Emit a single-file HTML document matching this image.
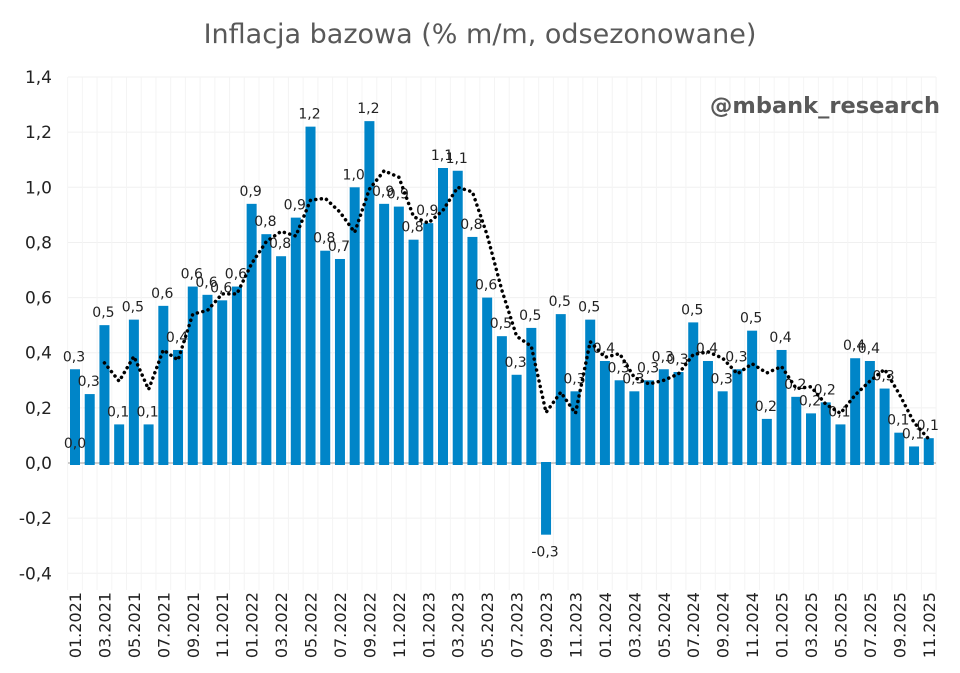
<!DOCTYPE html>
<html><head><meta charset="utf-8"><style>
html,body{margin:0;padding:0;background:#fff;}
svg{display:block;font-family:"DejaVu Sans","Liberation Sans",sans-serif;}
</style></head><body>
<svg id="s" width="960" height="673" xmlns="http://www.w3.org/2000/svg"></svg>
<script>
const v=[0.34,0.25,0.50,0.14,0.52,0.14,0.57,0.41,0.64,0.61,0.59,0.64,0.94,0.83,0.75,0.89,1.22,0.77,0.74,1.00,1.24,0.94,0.93,0.81,0.87,1.07,1.06,0.82,0.60,0.46,0.32,0.49,-0.26,0.54,0.26,0.52,0.37,0.30,0.26,0.30,0.34,0.33,0.51,0.37,0.26,0.34,0.48,0.16,0.41,0.24,0.18,0.22,0.14,0.38,0.37,0.27,0.11,0.06,0.09];
const Y=x=>463-x*275.7, X=i=>75+i*14.72;
let h='';
h+='<text x="480" y="43" text-anchor="middle" font-size="27" fill="#595959">Inflacja bazowa (% m/m, odsezonowane)</text>';
for(let i=0;i<=9;i++){const t=1.4-i*0.2,y=Y(t);
 h+=`<line x1="68" x2="936" y1="${y}" y2="${y}" stroke="#f0f0f0"/>`;
 h+=`<text x="52" y="${y+6}" text-anchor="end" font-size="17" fill="#222">${(Math.abs(t)<1e-9?0:t).toFixed(1).replace('.',',')}</text>`;}
for(let i=0;i<=59;i++){const x=X(i)-7.36;h+=`<line x1="${x}" x2="${x}" y1="77" y2="590" stroke="#f4f4f4"/>`;}
h+=`<line x1="68" x2="936" y1="463" y2="463" stroke="#bbb" stroke-width="1.5"/>`;
v.forEach((d,i)=>{const x=X(i);const y=Y(Math.max(d,0)),hh=Math.abs(d)*275.7;
 h+=`<rect x="${x-5}" y="${y}" width="10" height="${hh}" fill="#0085c8"/>`;
 h+=`<rect x="${x-5}" y="462" width="10" height="3" fill="#0085c8"/>`;
 const ly=d<0?Y(d)+22:y-8;
 h+=`<text x="${x-1}" y="${ly}" text-anchor="middle" font-size="14" fill="#222">${(Math.round(d*10)/10).toFixed(1).replace('.',',')}</text>`;
 if(i%2==0){h+=`<text transform="translate(${x+6},592) rotate(-90)" text-anchor="end" font-size="16" fill="#222">${String((i%12)+1).padStart(2,'0')}.${2021+Math.floor(i/12)}</text>`;}
});
h+=`<text x="75" y="448" text-anchor="middle" font-size="14" fill="#222">0,0</text>`;
let p=[];for(let i=2;i<v.length;i++){p.push([X(i),Y((v[i]+v[i-1]+v[i-2])/3)]);}
let d='M'+p.map(q=>q.join(',')).join(' L');
h+=`<path d="${d}" fill="none" stroke="#000" stroke-width="3.5" stroke-dasharray="0.1 5.5" stroke-linecap="round"/>`;
h+='<text x="940" y="113" text-anchor="end" font-size="22.5" font-weight="bold" fill="#595959">@mbank_research</text>';
document.getElementById('s').innerHTML=h;
</script>
</body></html>
